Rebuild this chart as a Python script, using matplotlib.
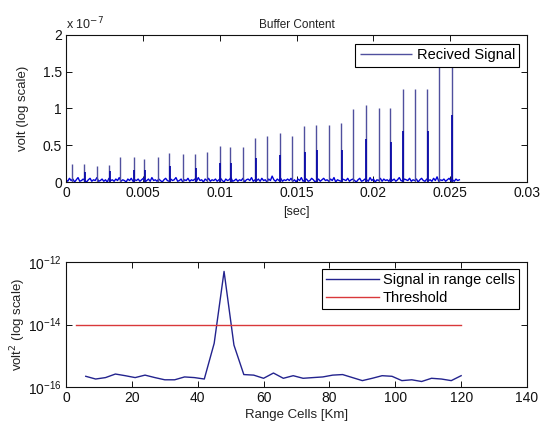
import matplotlib
matplotlib.use('Agg')
import matplotlib.pyplot as plt
import numpy as np
from matplotlib.ticker import NullLocator, FixedLocator, FixedFormatter

# ---------------- data ----------------
# top panel: received signal (units of 1e-7 V)
spike_t = [0.0004, 0.0012, 0.0020, 0.0028, 0.0035, 0.0044, 0.0051, 0.0060,
           0.0067, 0.0076, 0.0084, 0.0092, 0.0100, 0.0107, 0.0115, 0.0123,
           0.0131, 0.0139, 0.0147, 0.0155, 0.0163, 0.0171, 0.0179, 0.0187,
           0.0195, 0.0204, 0.0211, 0.0219, 0.0227, 0.0235, 0.0243, 0.0251]
spike_peak = [0.24, 0.25, 0.22, 0.23, 0.34, 0.34, 0.31, 0.34,
              0.40, 0.38, 0.38, 0.41, 0.49, 0.47, 0.47, 0.60,
              0.63, 0.66, 0.63, 0.76, 0.77, 0.77, 0.80, 0.99,
              1.05, 1.01, 1.01, 1.27, 1.27, 1.26, 1.75, 1.75]
spike_secondary = [0.00, 0.13, 0.00, 0.15, 0.00, 0.16, 0.16, 0.00,
                   0.22, 0.00, 0.19, 0.00, 0.26, 0.26, 0.00, 0.32,
                   0.00, 0.37, 0.00, 0.41, 0.44, 0.00, 0.44, 0.00,
                   0.58, 0.00, 0.55, 0.69, 0.00, 0.69, 0.00, 0.91]
noise = [0.03, 0.01, 0.05, 0.02, 0.04, 0.00, 0.03, 0.06, 0.01, 0.02,
         0.04, 0.02, 0.00, 0.03, 0.05, 0.01, 0.03, 0.02, 0.06, 0.01,
         0.02, 0.04, 0.01, 0.03, 0.00, 0.05, 0.02, 0.03, 0.01, 0.04,
         0.02, 0.06, 0.01, 0.03, 0.02, 0.00, 0.04, 0.02, 0.05, 0.01,
         0.03, 0.02, 0.04, 0.01, 0.03, 0.05, 0.00, 0.02, 0.04, 0.01,
         0.06, 0.02, 0.03, 0.01, 0.04, 0.02, 0.00, 0.03, 0.05, 0.02,
         0.01, 0.04, 0.02, 0.03, 0.06, 0.01, 0.02, 0.04, 0.00, 0.03,
         0.02, 0.05, 0.01, 0.03, 0.02, 0.04, 0.01, 0.06, 0.02, 0.03,
         0.00, 0.04, 0.02, 0.05, 0.01, 0.03, 0.02, 0.04, 0.01, 0.03,
         0.05, 0.02, 0.00, 0.04, 0.02, 0.03, 0.06, 0.01, 0.02, 0.04,
         0.01, 0.03, 0.02, 0.05, 0.00, 0.03, 0.04, 0.02, 0.06, 0.01,
         0.03, 0.02, 0.04, 0.01, 0.05, 0.02, 0.03, 0.00, 0.04, 0.02,
         0.08, 0.03, 0.01, 0.04, 0.02, 0.05, 0.01, 0.03, 0.02, 0.04,
         0.02, 0.05, 0.01, 0.03, 0.00, 0.04, 0.02, 0.06, 0.01, 0.03,
         0.04, 0.01, 0.02, 0.05, 0.03, 0.00, 0.02, 0.04, 0.01, 0.03,
         0.05, 0.02, 0.03, 0.01, 0.04, 0.02, 0.06, 0.00, 0.03, 0.02,
         0.01, 0.04, 0.03, 0.02, 0.05, 0.01, 0.03, 0.04, 0.02, 0.00,
         0.03, 0.05, 0.01, 0.02, 0.04, 0.03, 0.01, 0.06, 0.02, 0.04,
         0.00, 0.03, 0.02, 0.05, 0.01, 0.04, 0.02, 0.03, 0.01, 0.05,
         0.02, 0.04, 0.01, 0.03, 0.06, 0.02, 0.01, 0.04, 0.03, 0.02,
         0.05, 0.01, 0.03, 0.02, 0.04, 0.00, 0.03, 0.05, 0.02, 0.01,
         0.04, 0.02, 0.03, 0.01, 0.05, 0.02, 0.07, 0.01, 0.03, 0.02,
         0.04, 0.01, 0.03, 0.05, 0.02, 0.03, 0.01, 0.04, 0.02, 0.03]
noise_end = 0.0256
top_xticks = [0, 0.005, 0.01, 0.015, 0.02, 0.025, 0.03]
top_xticklabels = ['0', '0.005', '0.01', '0.015', '0.02', '0.025', '0.03']
top_yticks = [0, 0.5, 1, 1.5, 2]
top_yticklabels = ['0', '0.5', '1', '1.5', '2']

# bottom panel: signal in range cells (volt^2)
range_km = [6, 9, 12, 15, 18, 21, 24, 27, 30, 33, 36, 39, 42, 45, 48, 51,
            54, 57, 60, 63, 66, 69, 72, 75, 78, 81, 84, 87, 90, 93, 96, 99,
            102, 105, 108, 111, 114, 117, 120]
signal_cells = [2.2e-16, 1.8e-16, 2.0e-16, 2.6e-16, 2.3e-16, 2.0e-16, 2.4e-16,
                2.0e-16, 1.7e-16, 1.7e-16, 2.1e-16, 2.0e-16, 1.8e-16, 2.5e-15,
                5.0e-13, 2.2e-15, 2.5e-16, 2.4e-16, 1.9e-16, 2.8e-16, 1.9e-16,
                2.3e-16, 1.9e-16, 2.0e-16, 2.1e-16, 2.4e-16, 2.5e-16, 2.0e-16,
                1.6e-16, 1.9e-16, 2.3e-16, 2.2e-16, 1.6e-16, 1.7e-16, 1.5e-16,
                1.9e-16, 1.8e-16, 1.6e-16, 2.3e-16]
threshold_x = [3, 120]
threshold_val = 1e-14
bottom_xticks = [0, 20, 40, 60, 80, 100, 120, 140]

# ---------------- figure ----------------
plt.rcParams['font.family'] = ['Liberation Sans', 'DejaVu Sans']
W, H = 541, 423
fig = plt.figure(figsize=(W / 100, H / 100), dpi=100)


def rect(l, t, r, b):
    return [l / W, 1 - b / H, (r - l) / W, (b - t) / H]


ax1 = fig.add_axes(rect(66, 35, 527, 182))
ax2 = fig.add_axes(rect(66, 262, 527, 387))

main_col = '#50509e'
dark_col = '#0a0aa8'
noise_col = '#0000d8'

noise_t = np.linspace(0, noise_end, len(noise))
ax1.plot(noise_t, noise, color=noise_col, lw=1.0, zorder=2)
ax1.vlines(spike_t, 0, spike_peak, color=main_col, lw=1.0, zorder=3,
           label='Recived Signal')
sec_t = np.array(spike_t) + 0.00004
ax1.vlines(sec_t, 0, spike_secondary, color=dark_col, lw=1.3, zorder=3)

ax1.set_xlim(0, 0.03)
ax1.set_ylim(0, 2)
ax1.xaxis.set_major_locator(FixedLocator(top_xticks))
ax1.xaxis.set_major_formatter(FixedFormatter(top_xticklabels))
ax1.yaxis.set_major_locator(FixedLocator(top_yticks))
ax1.yaxis.set_major_formatter(FixedFormatter(top_yticklabels))
ax1.set_title('Buffer Content', fontsize=8.5, pad=5, color='#222222')
ax1.set_xlabel('[sec]', fontsize=9, labelpad=4, color='#222222')
ax1.set_ylabel('volt (log scale)', fontsize=9.5, labelpad=10, color='#222222')
ax1.text(0.0, 1.015, 'x 10$^{-7}$', transform=ax1.transAxes, ha='left',
         va='bottom', fontsize=9, color='#222222')
leg1 = ax1.legend(loc='upper right', bbox_to_anchor=(0.99, 0.96), fontsize=10.5,
                  fancybox=False, framealpha=1, edgecolor='black',
                  handlelength=3.6, borderpad=0.3, borderaxespad=0.2,
                  handletextpad=0.3)
leg1.get_frame().set_linewidth(0.8)

ax2.plot(range_km, signal_cells, color='#23238e', lw=1.0,
         label='Signal in range cells')
ax2.plot(threshold_x, [threshold_val, threshold_val], color='#d9383a', lw=1.0,
         label='Threshold')
ax2.set_yscale('log')
ax2.set_ylim(1e-16, 1e-12)
ax2.set_yticks([1e-16, 1e-14, 1e-12])
ax2.yaxis.set_minor_locator(NullLocator())
ax2.set_xlim(0, 140)
ax2.set_xticks(bottom_xticks)
ax2.set_xlabel('Range Cells [Km]', fontsize=9.5, labelpad=3, color='#222222')
ax2.set_ylabel('volt$^2$ (log scale)', fontsize=9.5, labelpad=0, color='#222222')
leg2 = ax2.legend(loc='upper right', bbox_to_anchor=(0.99, 0.97), fontsize=10.5,
                  fancybox=False, framealpha=1, edgecolor='black',
                  handlelength=3.6, borderpad=0.3, borderaxespad=0.2,
                  handletextpad=0.3, labelspacing=0.25)
leg2.get_frame().set_linewidth(0.8)

for ax in (ax1, ax2):
    ax.tick_params(direction='in', length=4, width=0.7, top=True, right=True,
                   labelsize=10, pad=3, colors='#111111')
    ax.tick_params(which='minor', length=0)
    for s in ax.spines.values():
        s.set_linewidth(0.8)
        s.set_color('#111111')

fig.savefig('out.png', dpi=100)
